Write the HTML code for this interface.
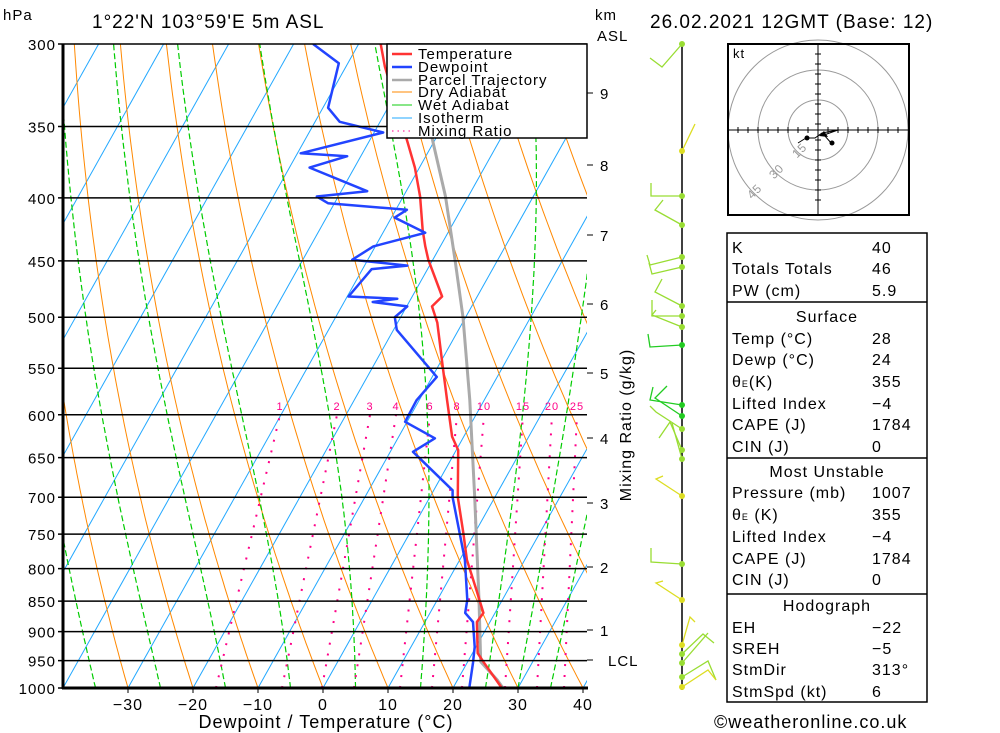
<!DOCTYPE html>
<html><head><meta charset="utf-8"><style>
html,body{margin:0;padding:0;background:#fff}
svg{display:block}
text{font-family:"Liberation Sans",sans-serif;letter-spacing:1px}
</style></head><body>
<svg id="c" width="1000" height="733" viewBox="0 0 1000 733" xmlns="http://www.w3.org/2000/svg">
<defs><clipPath id="plotclip"><rect x="63" y="44" width="524" height="644"/></clipPath></defs>
<g id="bg" clip-path="url(#plotclip)"></g>
<g id="prof" clip-path="url(#plotclip)"></g>
<g id="fg"></g>
</svg>
<script>
// ---- data ----
const isobars = [300,350,400,450,500,550,600,650,700,750,800,850,900,950,1000];
const xTicks = [-30,-20,-10,0,10,20,30,40];
const tempP = [300,313,361,378,399,425,438,449,481,490,505,549,584,625,641,700,748,787,833,869,884,937,952,1000];
const tempT = [-46.6,-44.0,-33.9,-30.7,-27.4,-24.1,-22.3,-20.7,-15.4,-16.1,-13.9,-9.2,-5.7,-1.8,0.3,4.3,8.2,11.1,15.2,18.2,18.0,20.8,22.4,27.5];
const dewP = [300,311,338,347,354,368,370,378,395,399,404,409,415,427,438,449,454,457,481,483,486,490,500,512,559,584,608,627,643,691,700,787,848,869,884,926,954,1000];
const dewT = [-57.0,-51.4,-49.2,-46.2,-38.6,-49.5,-42.1,-46.9,-36.0,-43.3,-41.0,-28.3,-29.5,-23.5,-30.3,-32.4,-23.4,-28.6,-29.8,-22.1,-25.6,-19.9,-20.9,-19.5,-9.3,-10.4,-10.3,-4.3,-6.5,2.9,3.5,10.8,14.6,15.4,17.4,19.8,20.9,22.5];
const parcelP = [300,361,399,449,500,584,700,848,952,985,1000];
const parcelT = [-41.9,-30.0,-23.5,-16.6,-10.4,-2.2,6.9,16.4,22.0,26.1,27.7];
const mixW = [1,2,3,4,6,8,10,15,20,25];
const mixX600 = [280,337,370,396,430,457,484,523,552,577];
const mixDx = [64,55,48,42,30,25,22,18,15,13];
const kmLabels = ['9','8','7','6','5','4','3','2','1'];
const kmY = [93,165,235,304,373,438,503,567,630];
const isoTs = [-140,-130,-120,-110,-100,-90,-80,-70,-60,-50,-40,-30,-20,-10,0,10,20,30,40];
const dryThetas = [-30,-20,-10,0,10,20,30,40,50,60,70,80,90,100,110,120,130,140,150,160];
const wetThetas = [-35,-25,-15,-5,5,15,25,30,35];
// wind barbs: [pressureY, staffX, staffY, featherX, featherY, colour]
const barbs = [[44,662,67,650,58,'#99dd33'],[151,695,124,695,124,'#dddd22'],[196,651,196,651,183,'#99dd33'],[225,655,210,663,200,'#99dd33'],
[257,650,265,647,255,'#99dd33'],[267,652,274,649,263,'#99dd33'],[306,655,292,662,279,'#99dd33'],[316,652,316,652,300,'#99dd33'],[327,652,315,656,310,'#99dd33'],[345,650,347,648,334,'#22cc22'],
[405,650,400,653,387,'#22cc22'],[416,655,398,667,386,'#22cc22'],[429,656,412,650,406,'#99dd33'],[450,670,422,659,438,'#99dd33'],[459,672,423,672,423,'#99dd33'],[496,656,479,663,476,'#dddd22'],
[564,651,562,651,548,'#99dd33'],[600,656,583,663,581,'#dddd22'],[645,690,617,695,622,'#dddd22'],[654,703,634,714,643,'#99dd33'],[663,708,633,708,633,'#99dd33'],[677,708,661,716,680,'#99dd33'],[687,708,670,716,680,'#dddd22']];

// ---- axes functions ----
const Y0=44,Y1=688,LN=Math.log(1000/300);
function yP(p){return Y0+(Y1-Y0)*Math.log(p/300)/LN;}
function xT(T,p){return 323+6.5*T+0.56*(Y1-yP(p));}
const NS='http://www.w3.org/2000/svg';
function el(tag,attrs,parent,txt){const e=document.createElementNS(NS,tag);for(const k in attrs)e.setAttribute(k,attrs[k]);if(txt!==undefined)e.textContent=txt;parent.appendChild(e);return e;}
const bg=document.getElementById('bg'),prof=document.getElementById('prof'),fg=document.getElementById('fg');
function ptsStr(arr){return arr.map(a=>a[0].toFixed(1)+','+a[1].toFixed(1)).join(' ');}

// isotherms
isoTs.forEach(T=>{const l=el('line',{x1:xT(T,1000),y1:yP(1000),x2:xT(T,250),y2:yP(250),stroke:'#22a8ff','stroke-width':1},bg);

});
// dry adiabats
dryThetas.forEach(th=>{const pts=[];for(let p=1000;p>=290;p-=10){pts.push([xT((th+273.15)*Math.pow(p/1000,0.286)-273.15,p),yP(p)]);}
const l=el('polyline',{points:ptsStr(pts),fill:'none',stroke:'#ff8800','stroke-width':1},bg);

});
// wet adiabats
function es(T){return 6.112*Math.exp(17.67*T/(T+243.5));}
wetThetas.forEach(tw=>{let T=tw+273.15;const pts=[];for(let p=1000;p>=290;p-=5){pts.push([xT(T-273.15,p),yP(p)]);
const rs=0.622*es(T-273.15)/(p-es(T-273.15));const Lv=2.5e6,Rd=287,cp=1005;
const dTdp=(Rd*T+Lv*rs)/(p*(cp+Lv*Lv*rs*0.622/(Rd*T*T)));T-=dTdp*5;}
const l=el('polyline',{points:ptsStr(pts),fill:'none',stroke:'#00cc00','stroke-width':1.2,'stroke-dasharray':'6,3'},bg);

});
// mixing ratio lines
mixW.forEach((w,i)=>{const l=el('line',{x1:mixX600[i]-mixDx[i],y1:yP(1000),x2:mixX600[i],y2:yP(600),stroke:'#ff0088','stroke-width':2,'stroke-dasharray':'2,9'},bg);


const t=el('text',{x:mixX600[i],y:410,'font-size':11,fill:'#ff0088','text-anchor':'middle'},fg,String(w));

});
// isobars
isobars.forEach(p=>{const y=yP(p);const l=el('line',{x1:58,y1:y,x2:587,y2:y,stroke:'#000','stroke-width':1.5},fg);


const t=el('text',{x:56,y:y+6,'font-size':15,'text-anchor':'end',fill:'#000'},fg,String(p));

});
// profiles
function prof2(P,T,col,w,name){const pts=P.map((p,i)=>[xT(T[i],p),yP(p)]);const l=el('polyline',{points:ptsStr(pts),fill:'none',stroke:col,'stroke-width':w,'stroke-linejoin':'round'},prof);

}
prof2(parcelP,parcelT,'#aaaaaa',3,'parcel-trajectory');
prof2(tempP,tempT,'#ff3333',2.5,'temperature-line');
prof2(dewP,dewT,'#2244ff',2.5,'dewpoint-line');
// frame
el('line',{x1:63,y1:44,x2:63,y2:689,stroke:'#000','stroke-width':3},fg);
el('line',{x1:62,y1:688,x2:588,y2:688,stroke:'#000','stroke-width':3},fg);
// x ticks
xTicks.forEach(T=>{const x=323+6.5*T;el('line',{x1:x,y1:688,x2:x,y2:693,stroke:'#000'},fg);
const t=el('text',{x:x,y:710,'font-size':16,'text-anchor':'middle'},fg,String(T).replace('-','\u2212'));

});
// km labels
kmLabels.forEach((k,i)=>{el('line',{x1:587,y1:kmY[i],x2:593,y2:kmY[i],stroke:'#000'},fg);
const t=el('text',{x:600,y:kmY[i]+6,'font-size':15},fg,k);

});
el('line',{x1:587,y1:660,x2:593,y2:660,stroke:'#000'},fg);
// wind column
el('line',{x1:682,y1:44,x2:682,y2:690,stroke:'#000','stroke-width':1.5},fg);
barbs.forEach(b=>{const g=el('g',{},fg);


el('polyline',{points:`682,${b[0]} ${b[1]},${b[2]} ${b[3]},${b[4]}`,fill:'none',stroke:b[5],'stroke-width':1.3},g);
el('circle',{cx:682,cy:b[0],r:3,fill:b[5]},g);});
</script>
<svg width="1000" height="733" style="position:absolute;left:0;top:0">
<text x="3" y="20" font-size="15" font-family="Liberation Sans">hPa</text>
<text x="92" y="28" font-size="19" font-family="Liberation Sans" letter-spacing="1.5">1°22'N  103°59'E  5m  ASL</text>
<text x="595" y="20" font-size="15" font-family="Liberation Sans">km</text>
<text x="597" y="41" font-size="15" font-family="Liberation Sans">ASL</text>
<text x="608" y="666" font-size="15" font-family="Liberation Sans">LCL</text>
<text x="650" y="28" font-size="19" font-family="Liberation Sans" letter-spacing="1.5">26.02.2021 12GMT (Base: 12)</text>
<text transform="translate(631,425) rotate(-90)" text-anchor="middle" font-size="16" font-family="Liberation Sans" letter-spacing="1">Mixing Ratio (g/kg)</text>
<text x="326" y="728" text-anchor="middle" font-size="18" font-family="Liberation Sans" letter-spacing="1.5">Dewpoint / Temperature (°C)</text>
<text x="714" y="728" font-size="18" font-family="Liberation Sans" letter-spacing="1">©weatheronline.co.uk</text>
<g font-family="Liberation Sans" font-size="15" letter-spacing="1">
<rect x="387" y="44" width="200" height="94" fill="#fff" stroke="#000" stroke-width="1.5"/>
<line x1="392" y1="54" x2="412" y2="54" stroke="#ff3333" stroke-width="2.5"/><text x="418" y="59">Temperature</text>
<line x1="392" y1="67" x2="412" y2="67" stroke="#2244ff" stroke-width="2.5"/><text x="418" y="72">Dewpoint</text>
<line x1="392" y1="80" x2="412" y2="80" stroke="#aaaaaa" stroke-width="2.5"/><text x="418" y="85">Parcel Trajectory</text>
<line x1="392" y1="92" x2="412" y2="92" stroke="#ff8800"/><text x="418" y="97">Dry Adiabat</text>
<line x1="392" y1="105" x2="412" y2="105" stroke="#11cc11"/><text x="418" y="110">Wet Adiabat</text>
<line x1="392" y1="118" x2="412" y2="118" stroke="#22a8ff"/><text x="418" y="123">Isotherm</text>
<line x1="392" y1="131" x2="412" y2="131" stroke="#ff0088" stroke-dasharray="1.5,4"/><text x="418" y="136">Mixing Ratio</text>
</g>
<g>
<rect x="728" y="44" width="181" height="171" fill="#fff" stroke="#000" stroke-width="2"/>
<circle cx="818" cy="130" r="30" fill="none" stroke="#999"/>
<circle cx="818" cy="130" r="60" fill="none" stroke="#999"/>
<circle cx="818" cy="130" r="90" fill="none" stroke="#999"/>
<rect x="728" y="44" width="181" height="171" fill="none" stroke="#000" stroke-width="2"/>
<line x1="728" y1="130" x2="909" y2="130" stroke="#000"/>
<line x1="818" y1="44" x2="818" y2="215" stroke="#000"/>
<path d="M738 127v6M748 127v6M758 127v6M768 127v6M778 127v6M788 127v6M798 127v6M808 127v6M828 127v6M838 127v6M848 127v6M858 127v6M868 127v6M878 127v6M888 127v6M898 127v6M815 54h6M815 64h6M815 74h6M815 84h6M815 94h6M815 104h6M815 114h6M815 124h6M815 140h6M815 150h6M815 160h6M815 170h6M815 180h6M815 190h6M815 200h6" stroke="#000"/>
<polyline points="798,143 806,138 815,138 822,133 838,130 824,135 832,144" fill="none" stroke="#000"/>
<polygon points="819,136 824,131 828,137" fill="#000"/>
<circle cx="807" cy="138" r="2.5" fill="#000"/><circle cx="832" cy="143" r="2.5" fill="#000"/>
<text x="733" y="58" font-size="13" font-family="Liberation Sans">kt</text>
<text x="793" y="157" font-size="12" fill="#999" font-family="Liberation Sans" transform="rotate(-45 797 153)">15</text>
<text x="770" y="178" font-size="12" fill="#999" font-family="Liberation Sans" transform="rotate(-45 774 174)">30</text>
<text x="748" y="198" font-size="12" fill="#999" font-family="Liberation Sans" transform="rotate(-45 752 194)">45</text>
</g>
<g font-family="Liberation Sans" font-size="16" letter-spacing="1.2">
<rect x="727" y="233" width="200" height="469" fill="none" stroke="#000" stroke-width="1.5"/>
<line x1="727" y1="302" x2="927" y2="302" stroke="#000" stroke-width="1.5"/>
<line x1="727" y1="458" x2="927" y2="458" stroke="#000" stroke-width="1.5"/>
<line x1="727" y1="594" x2="927" y2="594" stroke="#000" stroke-width="1.5"/>
<text x="732" y="253">K</text><text x="872" y="253">40</text>
<text x="732" y="274">Totals Totals</text><text x="872" y="274">46</text>
<text x="732" y="296">PW (cm)</text><text x="872" y="296">5.9</text>
<text x="827" y="322" text-anchor="middle">Surface</text>
<text x="732" y="344">Temp (°C)</text><text x="872" y="344">28</text>
<text x="732" y="365">Dewp (°C)</text><text x="872" y="365">24</text>
<text x="732" y="387">θ<tspan font-size="9">E</tspan>(K)</text><text x="872" y="387">355</text>
<text x="732" y="409">Lifted Index</text><text x="872" y="409">−4</text>
<text x="732" y="430">CAPE (J)</text><text x="872" y="430">1784</text>
<text x="732" y="452">CIN (J)</text><text x="872" y="452">0</text>
<text x="827" y="477" text-anchor="middle">Most Unstable</text>
<text x="732" y="498">Pressure (mb)</text><text x="872" y="498">1007</text>
<text x="732" y="520">θ<tspan font-size="9">E</tspan> (K)</text><text x="872" y="520">355</text>
<text x="732" y="542">Lifted Index</text><text x="872" y="542">−4</text>
<text x="732" y="564">CAPE (J)</text><text x="872" y="564">1784</text>
<text x="732" y="585">CIN (J)</text><text x="872" y="585">0</text>
<text x="827" y="611" text-anchor="middle">Hodograph</text>
<text x="732" y="633">EH</text><text x="872" y="633">−22</text>
<text x="732" y="654">SREH</text><text x="872" y="654">−5</text>
<text x="732" y="675">StmDir</text><text x="872" y="675">313°</text>
<text x="732" y="697">StmSpd (kt)</text><text x="872" y="697">6</text>
</g>
</svg>
</body></html>
